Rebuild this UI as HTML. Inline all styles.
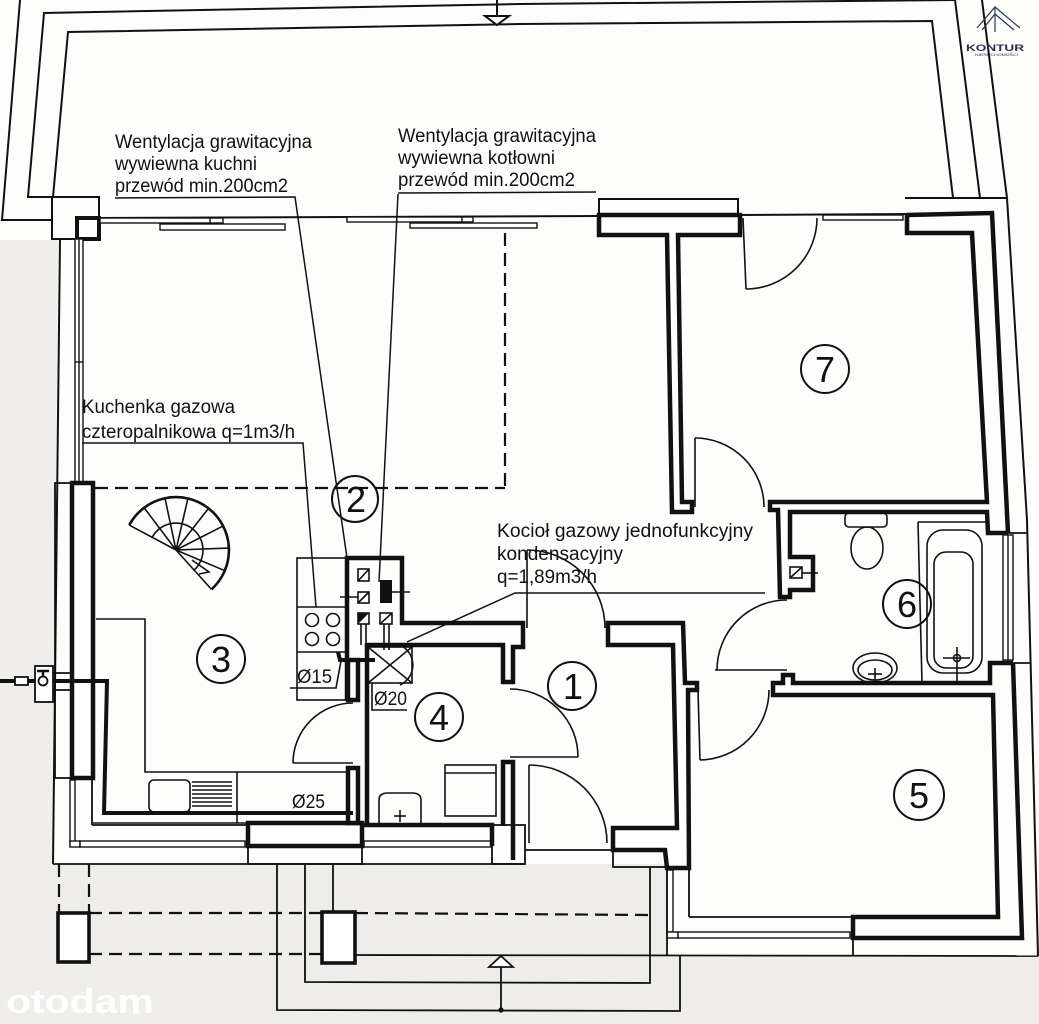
<!DOCTYPE html>
<html><head><meta charset="utf-8">
<style>
html,body{margin:0;padding:0;background:#fff;}
svg{display:block}
text{font-family:"Liberation Sans",Arial,sans-serif;fill:#111}
</style></head><body>
<svg width="1039" height="1024" viewBox="0 0 1039 1024" xmlns="http://www.w3.org/2000/svg">
<rect width="1039" height="1024" fill="#fdfdfc"/>
<path d="M0,240 L58,240 L53,864 L0,864 Z" fill="#efeeea"/>
<path d="M0,864 L667,864 L667,956 L1039,956 L1039,1024 L0,1024 Z" fill="#eeede9"/>

<!-- roof / overhang lines -->
<g fill="none" stroke="#111" stroke-width="2">
<polyline points="20,0 2,220 52,220"/>
<polyline points="52,197 28,197 44,13 520,4 955,0"/>
<polyline points="53,197 68,32 520,24 932,21 953,198"/>
<polyline points="955,0 980,198"/>
<polyline points="982,0 1007,198 1027,520 1038,956"/>
<line x1="905" y1="198" x2="1007" y2="198"/>
<line x1="497" y1="0" x2="497" y2="16"/>
<polygon points="485,16 509,16 497,25" fill="#fff"/>
<!-- top facade -->
<line x1="99" y1="218" x2="599" y2="216"/>
<line x1="740" y1="215" x2="907" y2="214"/>
<rect x="599" y="199" width="139" height="16"/>
<!-- top-left corner box -->
<rect x="52" y="197" width="47" height="42"/>
<line x1="60" y1="239" x2="53" y2="864"/>
</g>
<rect x="77" y="218" width="22" height="21" fill="#fff" stroke="#111" stroke-width="4"/>

<!-- windows -->
<g fill="#fff" stroke="#111" stroke-width="1.4">
<rect x="100" y="218" width="123" height="5"/><line x1="210" y1="218" x2="210" y2="223"/>
<rect x="160" y="224" width="125" height="6"/>
<rect x="347" y="217" width="126" height="5"/><line x1="462" y1="217" x2="462" y2="222"/>
<rect x="410" y="223" width="127" height="5"/>
<rect x="823" y="215" width="80" height="5"/>
<rect x="75" y="239" width="8" height="244"/><line x1="79" y1="239" x2="79" y2="483"/><line x1="75" y1="362" x2="83" y2="362"/>
<rect x="70" y="780" width="5" height="62"/>
<rect x="70" y="841" width="10" height="6"/>
<rect x="80" y="841" width="165" height="6"/>
<rect x="364" y="841" width="127" height="6"/>
<rect x="1003" y="535" width="10" height="125"/><line x1="1008" y1="535" x2="1008" y2="660"/>
<rect x="667" y="870" width="6" height="62"/>
<rect x="667" y="932" width="11" height="6"/>
<rect x="678" y="932" width="172" height="6"/>
</g>

<!-- thin structural lines -->
<g fill="none" stroke="#111" stroke-width="1.8">
<rect x="55" y="483" width="38" height="295"/>
<line x1="92" y1="778" x2="92" y2="825"/>
<line x1="92" y1="825" x2="248" y2="825"/>
<line x1="53" y1="864" x2="525" y2="864"/>
<rect x="248" y="846" width="114" height="18"/>
<rect x="492" y="825" width="33" height="39"/>
<line x1="525" y1="850" x2="614" y2="850"/>
<rect x="613" y="850" width="53" height="17"/>
<line x1="53" y1="673" x2="93" y2="673"/>
<line x1="53" y1="690" x2="93" y2="690"/>
<line x1="667" y1="868" x2="667" y2="956"/>
<line x1="689" y1="868" x2="689" y2="917"/>
<line x1="689" y1="917" x2="853" y2="917"/>
<line x1="853" y1="938" x2="853" y2="956"/>
<line x1="355" y1="955" x2="1038" y2="956"/>
<line x1="1008" y1="533" x2="1028" y2="533"/>
<line x1="1013" y1="663" x2="1031" y2="663"/>
<!-- bottom terrace lines -->
<line x1="333" y1="864" x2="333" y2="912"/>
<polyline points="277,864 277,1010 680,1011 680,955"/>
<polyline points="305,864 305,982 650,983 650,867"/>
<line x1="501" y1="967" x2="501" y2="1010"/>
<polygon points="489,967 513,967 501,956" fill="#fff"/>
</g>
<circle cx="501" cy="1010" r="2.6" fill="#111"/>
<g fill="none" stroke="#111" stroke-width="2.2" stroke-dasharray="13,7">
<line x1="59" y1="864" x2="59" y2="912"/>
<line x1="89" y1="864" x2="89" y2="912"/>
<line x1="89" y1="913" x2="322" y2="913"/>
<line x1="355" y1="913" x2="650" y2="915"/>
<line x1="89" y1="954" x2="322" y2="954"/>
<line x1="95" y1="488" x2="505" y2="488"/>
<line x1="505" y1="233" x2="505" y2="488"/>
</g>
<g fill="#fff" stroke="#111" stroke-width="3.6">
<rect x="58" y="913" width="31" height="49"/>
<rect x="322" y="912" width="33" height="51"/>
</g>

<!-- thick walls -->
<g fill="#fff" stroke="#111" stroke-width="4.5" stroke-linejoin="miter">
<polygon points="599,215 740,215 740,235 678,235 682,502 692,502 692,512 672,512 667,235 599,235"/>
<rect x="72" y="483" width="21" height="295"/>
<polygon points="608,623 683,623 685,683 697,683 697,690 688,690 689,868 667,868 665,850 613,850 613,828 677,828 673,645 608,645"/>
<rect x="248" y="823" width="114" height="23"/>
<rect x="348" y="660" width="10" height="40"/>
<rect x="348" y="768" width="10" height="55"/>
</g>
<g fill="none" stroke="#111" stroke-width="4.5" stroke-linejoin="miter">
<polyline points="907,215 992,213 1008,533"/>
<polyline points="907,215 907,233 972,233 987,502 770,502 770,510 778,510 780,597 790,597 790,590 813,590 813,557 790,557 790,512 987,512 988,533 1008,533"/>
<polyline points="1013,663 990,663 990,683 793,683 793,675 783,675 783,683 773,683 773,695 993,695 998,917 853,917 853,938 1022,938 1013,663"/>
<polyline points="347,700 347,558 402,558 402,623 523,623 523,647 513,647 513,682 503,682 503,645 367,645"/>
<line x1="367" y1="643" x2="367" y2="827"/>
<polyline points="362,825 492,825 492,846"/>
<polyline points="503,826 503,762 513,762 513,860"/>
<polyline points="0,681 107,681 104,813 353,813" stroke-width="4"/>
<polyline points="338,652 340,660 375,660" stroke-width="4"/>
</g>

<!-- gas meter -->
<g fill="#fff" stroke="#111" stroke-width="1.8">
<rect x="35" y="666" width="18" height="36"/>
<rect x="15" y="677" width="13" height="8"/>
<circle cx="43" cy="681" r="4.5"/>
<line x1="37" y1="671" x2="49" y2="671" stroke-width="2.5"/>
<line x1="43" y1="671" x2="43" y2="677" stroke-width="2.5"/>
</g>

<!-- kitchen -->
<g fill="none" stroke="#111" stroke-width="1.6">
<polyline points="96,619 145,619 145,772 347,772"/>
<line x1="93" y1="823" x2="347" y2="823"/>
<line x1="237" y1="772" x2="237" y2="823"/>
<rect x="149" y="780" width="41" height="32" rx="5"/>
<line x1="192" y1="782" x2="232" y2="782"/><line x1="192" y1="786" x2="232" y2="786"/>
<line x1="192" y1="790" x2="232" y2="790"/><line x1="192" y1="794" x2="232" y2="794"/>
<line x1="192" y1="798" x2="232" y2="798"/><line x1="192" y1="802" x2="232" y2="802"/>
<line x1="192" y1="806" x2="232" y2="806"/>
<rect x="297" y="558" width="50" height="142"/>
<line x1="297" y1="607" x2="347" y2="607"/>
<line x1="297" y1="652" x2="347" y2="652"/>
<circle cx="312" cy="620" r="6.5"/><circle cx="333" cy="620" r="6.5"/>
<circle cx="312" cy="639" r="6.5"/><circle cx="333" cy="639" r="6.5"/>
<!-- vents -->
<rect x="358" y="569" width="11" height="12"/><line x1="358" y1="581" x2="369" y2="569"/>
<rect x="358" y="592" width="11" height="11"/><line x1="358" y1="603" x2="369" y2="592"/>
<line x1="340" y1="597" x2="358" y2="597"/>
<rect x="358" y="613" width="11" height="11"/>
<rect x="380" y="613" width="12" height="11"/><line x1="380" y1="624" x2="392" y2="613"/>
<line x1="392" y1="592" x2="410" y2="592"/>
<line x1="361" y1="624" x2="361" y2="645"/><line x1="366" y1="624" x2="366" y2="645"/>
<line x1="384" y1="624" x2="384" y2="650"/><line x1="389" y1="624" x2="389" y2="650"/>
<!-- boiler -->
<rect x="368" y="647" width="44" height="36"/>
<line x1="368" y1="647" x2="412" y2="683"/><line x1="412" y1="647" x2="368" y2="683"/>
<path d="M400,645 A22,22 0 0 1 400,685"/>
<polyline points="372,683 372,710 407,710"/>
<!-- Ø15 leader -->
<polyline points="290,688 336,688 341,661"/>
</g>
<rect x="380" y="580" width="12" height="23" fill="#111"/>
<polygon points="358,613 369,613 358,624" fill="#111"/>

<!-- spiral stair -->
<g fill="none" stroke="#111" stroke-width="1.6">
<path d="M129.2,525.1 A53,53 0 1 1 211.5,589.4" stroke-width="2.6"/>
<path d="M152.2,537.3 A27,27 0 1 1 194.1,570.1"/>
<line x1="176" y1="550" x2="129.2" y2="525.1"/>
<line x1="176" y1="550" x2="144.1" y2="507.7"/>
<line x1="176" y1="550" x2="165" y2="498.2"/>
<line x1="176" y1="550" x2="187.9" y2="498.4"/>
<line x1="176" y1="550" x2="208.6" y2="508.2"/>
<line x1="176" y1="550" x2="223.2" y2="525.9"/>
<line x1="176" y1="550" x2="228.9" y2="548.1"/>
<line x1="176" y1="550" x2="224.8" y2="570.7"/>
<line x1="176" y1="550" x2="211.5" y2="589.4"/>
<polyline points="192,560 209,572 199,574"/>
</g>

<!-- bathroom fixtures -->
<g fill="none" stroke="#111" stroke-width="1.6">
<rect x="845" y="513" width="42" height="14" rx="4"/>
<ellipse cx="867" cy="548" rx="16" ry="21"/>
<line x1="918" y1="522" x2="922" y2="683"/>
<line x1="918" y1="522" x2="988" y2="522"/>
<rect x="927" y="530" width="55" height="143" rx="16"/>
<rect x="934" y="552" width="39" height="116" rx="12"/>
<circle cx="957" cy="658" r="3.5"/>
<line x1="943" y1="658" x2="970" y2="658"/><line x1="957" y1="647" x2="957" y2="683"/>
<ellipse cx="875" cy="668" rx="22" ry="15"/>
<ellipse cx="875" cy="670" rx="17" ry="10"/>
<line x1="868" y1="674" x2="882" y2="674"/><line x1="875" y1="668" x2="875" y2="683"/>
<rect x="790" y="567" width="12" height="11"/><line x1="790" y1="578" x2="802" y2="567"/>
<line x1="802" y1="573" x2="818" y2="573"/>
<!-- WC fixtures -->
<path d="M379,823 L379,800 Q379,793 388,793 L412,793 Q421,793 421,800 L421,823"/>
<line x1="394" y1="816" x2="406" y2="816"/><line x1="400" y1="810" x2="400" y2="822"/>
<rect x="445" y="765" width="51" height="51"/>
<line x1="445" y1="773" x2="496" y2="773"/>
</g>

<!-- doors -->
<g fill="none" stroke="#111" stroke-width="1.6">
<line x1="743" y1="218" x2="746" y2="289"/><path d="M746,289 A71,71 0 0 0 817,218"/>
<line x1="695" y1="438" x2="695" y2="507"/><path d="M695,438 A69,69 0 0 1 764,507"/>
<line x1="527" y1="550" x2="527" y2="628"/><path d="M527,550 A78,78 0 0 1 605,628"/>
<line x1="510" y1="757" x2="578" y2="757"/><path d="M510,689 A68,68 0 0 1 578,757"/>
<line x1="529" y1="765" x2="529" y2="843"/><path d="M529,765 A78,78 0 0 1 607,843"/>
<line x1="698" y1="690" x2="700" y2="760"/><path d="M700,760 A70,70 0 0 0 769,690"/>
<line x1="715" y1="670" x2="787" y2="670"/><path d="M717,670 A70,70 0 0 1 787,600"/>
<line x1="293" y1="763" x2="353" y2="763"/><path d="M293,763 A60,60 0 0 1 353,703"/>
</g>

<!-- leaders -->
<g fill="none" stroke="#111" stroke-width="1.5">
<polyline points="115,198 295,197 347,558"/>
<polyline points="398,193 596,192"/>
<line x1="398" y1="194" x2="379" y2="582"/>
<polyline points="82,443 303,443 316,607"/>
<polyline points="765,593 515,593 407,642"/>
</g>

<!-- room circles -->
<g fill="none" stroke="#111" stroke-width="2">
<circle cx="355" cy="499" r="23"/>
<circle cx="221" cy="659" r="24"/>
<circle cx="439" cy="717" r="24"/>
<circle cx="572" cy="686" r="24"/>
<circle cx="825" cy="369" r="24"/>
<circle cx="907" cy="604" r="24"/>
<circle cx="919" cy="795" r="25"/>
</g>
<g font-size="36" text-anchor="middle">
<text x="356" y="512">2</text>
<text x="221" y="672">3</text>
<text x="439" y="730">4</text>
<text x="573" y="699">1</text>
<text x="825" y="382">7</text>
<text x="907" y="617">6</text>
<text x="919" y="808">5</text>
</g>

<!-- labels -->
<g font-size="19">
<text x="115" y="148" textLength="197" lengthAdjust="spacingAndGlyphs">Wentylacja grawitacyjna</text>
<text x="115" y="170" textLength="142" lengthAdjust="spacingAndGlyphs">wywiewna kuchni</text>
<text x="115" y="192" textLength="173" lengthAdjust="spacingAndGlyphs">przewód min.200cm2</text>
<text x="398" y="142" textLength="198" lengthAdjust="spacingAndGlyphs">Wentylacja grawitacyjna</text>
<text x="398" y="164" textLength="157" lengthAdjust="spacingAndGlyphs">wywiewna kotłowni</text>
<text x="398" y="186" textLength="177" lengthAdjust="spacingAndGlyphs">przewód min.200cm2</text>
<text x="82" y="413" textLength="153" lengthAdjust="spacingAndGlyphs">Kuchenka gazowa</text>
<text x="82" y="438" textLength="213" lengthAdjust="spacingAndGlyphs">czteropalnikowa q=1m3/h</text>
<text x="497" y="537" textLength="256" lengthAdjust="spacingAndGlyphs">Kocioł gazowy jednofunkcyjny</text>
<text x="497" y="560" textLength="126" lengthAdjust="spacingAndGlyphs">kondensacyjny</text>
<text x="497" y="583" textLength="100" lengthAdjust="spacingAndGlyphs">q=1,89m3/h</text>
<text x="297" y="683" textLength="35" lengthAdjust="spacingAndGlyphs">Ø15</text>
<text x="374" y="705" textLength="33" lengthAdjust="spacingAndGlyphs">Ø20</text>
<text x="292" y="808" textLength="33" lengthAdjust="spacingAndGlyphs">Ø25</text>
</g>

<!-- logo -->
<g fill="none" stroke="#2a3552" stroke-width="1.2">
<polyline points="977,28 995,7 1020,28"/>
<polyline points="982,30 995,14 1014,30"/>
<line x1="995" y1="7" x2="995" y2="32"/>
</g>
<text x="966" y="51" font-size="9.5" font-weight="bold" style="fill:#23304d" textLength="58" lengthAdjust="spacingAndGlyphs">KONTUR</text>
<text x="975" y="56" font-size="3.5" style="fill:#23304d" textLength="43" lengthAdjust="spacingAndGlyphs">NIERUCHOMOŚCI</text>

<!-- watermark -->
<text x="6" y="1013" font-size="34" font-weight="bold" style="fill:#ffffff" textLength="148" lengthAdjust="spacingAndGlyphs">otodam</text>
</svg>
</body></html>
